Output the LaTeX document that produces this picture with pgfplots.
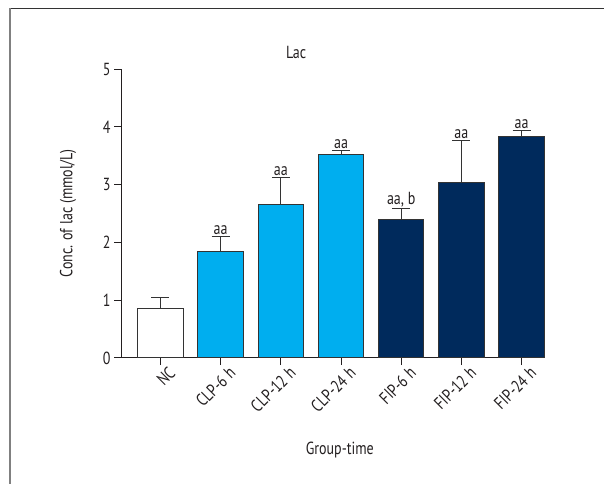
\documentclass[border=0pt]{standalone}
\usepackage{pgfplots}
\pgfplotsset{compat=1.18}
\usepackage{fontspec}
\setmainfont{PT Sans}[FakeStretch=0.8]
\definecolor{txt}{HTML}{231F20}
\definecolor{lblue}{HTML}{00AEEF}
\definecolor{navy}{HTML}{002A5C}
\definecolor{edge}{HTML}{333333}
\newcommand{\fs}{\fontsize{17.5}{20}\selectfont}
\begin{document}
\begin{tikzpicture}[x=1pt,y=1pt]
\path[use as bounding box] (0,0) rectangle (604,484);
\draw[color=black!80, line width=1pt] (10,475) -- (604,475);
\draw[color=black!50, line width=1.5pt] (10,475.5) -- (10,0);
\begin{axis}[
  at={(121pt,126pt)}, anchor=south west,
  scale only axis, width=424pt, height=289pt,
  xmin=-0.656, xmax=6.39, ymin=0, ymax=5,
  axis x line*=bottom, axis y line*=left,
  axis line style={color=txt, line width=1pt},
  every tick/.style={color=txt, line width=1pt},
  tick align=outside,
  ytick={0,1,2,3,4,5},
  major tick length=7pt,
  xtick={0,1,2,3,4,5,6},
  xticklabels={NC,CLP-6 h,CLP-12 h,CLP-24 h,FIP-6 h,FIP-12 h,FIP-24 h},
  xticklabel style={rotate=45, anchor=north east, font=\fs, text=txt, xshift=8pt, yshift=-2pt},
  yticklabel style={font=\fs, text=txt},
  /pgf/number format/assume math mode=true,
  title={Lac},
  title style={at={(rel axis cs:0.413,1.038)}, anchor=center, font=\fs, text=txt},
  xlabel={Group-time},
  xlabel style={at={(rel axis cs:0.516,-0.318)}, anchor=center, font=\fs, text=txt},
  ylabel={Conc. of lac (mmol/L)},
  ylabel style={at={(rel axis cs:-0.125,0.5)}, anchor=center, font=\fs, text=txt},
  ybar, bar width=0.756, bar shift=0pt,
  clip=false,
  error bars/error bar style={color=edge, line width=1pt},
  error bars/error mark options={rotate=90, mark size=9pt, line width=1pt, color=edge},
]
\addplot[fill=white, draw=edge, line width=1pt, error bars/y dir=plus, error bars/y explicit] coordinates {(0,0.86) +- (0,0.19)};
\addplot[fill=lblue, draw=edge, line width=1pt, error bars/y dir=plus, error bars/y explicit] coordinates {(1,1.84) +- (0,0.27) (2,2.66) +- (0,0.46) (3,3.52) +- (0,0.07)};
\addplot[fill=navy, draw=edge, line width=1pt, error bars/y dir=plus, error bars/y explicit] coordinates {(4,2.39) +- (0,0.19) (5,3.03) +- (0,0.73) (6,3.83) +- (0,0.11)};
\addplot[draw=none, fill=none, mark=none, forget plot,
  nodes near coords, point meta=explicit symbolic,
  every node near coord/.append style={font=\fs, text=txt, anchor=south, inner sep=1.5pt}]
  table[meta=lab] {
x y lab
1 2.11 aa
2 3.12 aa
3 3.59 aa
4 2.58 {aa, b}
5 3.76 aa
6 3.94 aa
};
\end{axis}
\end{tikzpicture}
\end{document}
